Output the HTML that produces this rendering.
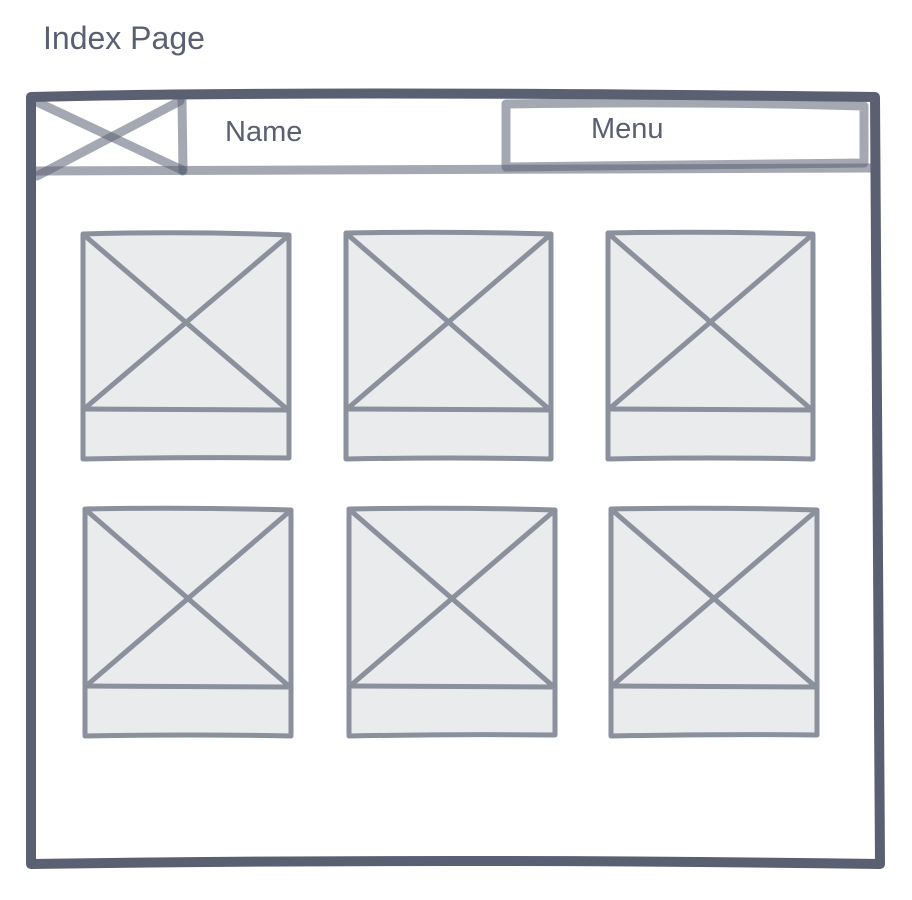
<!DOCTYPE html>
<html><head><meta charset="utf-8"><style>
html,body{margin:0;padding:0;background:#fff;width:912px;height:900px;overflow:hidden}
svg{display:block}
</style></head><body>
<svg width="912" height="900" viewBox="0 0 912 900" xmlns="http://www.w3.org/2000/svg">
<text x="43" y="49" font-family="Liberation Sans, sans-serif" font-size="32" fill="#5a6072">Index Page</text>
<path d="M31 97 Q300 90 875 97 L880 864 Q450 858 31 864 Z" fill="#fff" stroke="#5a6072" stroke-width="10" stroke-linejoin="round"/>
<g stroke="#5a6072" stroke-opacity="0.55" stroke-width="9" fill="none" stroke-linecap="round">
<line x1="35" y1="171" x2="872" y2="168"/>
<line x1="182" y1="100" x2="183" y2="171"/>
<line x1="37" y1="102" x2="182" y2="170"/>
<line x1="37" y1="176" x2="180" y2="101"/>
<path d="M506 104 Q700 101 864 106 L864 163 Q700 165 506 167 Z" stroke-linejoin="round"/>
</g>
<text x="225" y="141" font-family="Liberation Sans, sans-serif" font-size="29" fill="#5a6072">Name</text>
<text x="591" y="138" font-family="Liberation Sans, sans-serif" font-size="29" fill="#5a6072">Menu</text>
<g fill="#eaebed" stroke="#8a909c" stroke-width="5" stroke-linecap="round" stroke-linejoin="round">
<path d="M83 234 Q185 231 289 235 L289 458 Q185 457 83 459 Z"/>
<path d="M346 233 Q450 231 551 234 L551 459 Q450 457 346 459 Z"/>
<path d="M608 233 Q710 231 813 234 L813 459 Q710 457 608 459 Z"/>
<path d="M85 509 Q190 507 291 510 L291 736 Q190 734 85 736 Z"/>
<path d="M349 509 Q450 507 555 510 L555 735 Q450 734 349 736 Z"/>
<path d="M611 509 Q715 507 817 510 L817 735 Q715 734 611 736 Z"/>
</g>
<g stroke="#8a909c" stroke-width="5" stroke-linecap="round" fill="none">
<line x1="83" y1="409" x2="289" y2="410"/><line x1="84" y1="235" x2="288" y2="410"/><line x1="84" y1="409" x2="288" y2="236"/>
<line x1="346" y1="409" x2="551" y2="410"/><line x1="347" y1="234" x2="550" y2="410"/><line x1="347" y1="409" x2="550" y2="235"/>
<line x1="608" y1="409" x2="813" y2="410"/><line x1="609" y1="234" x2="812" y2="410"/><line x1="609" y1="409" x2="812" y2="235"/>
<line x1="85" y1="686" x2="291" y2="687"/><line x1="86" y1="510" x2="290" y2="687"/><line x1="86" y1="686" x2="290" y2="511"/>
<line x1="349" y1="686" x2="555" y2="687"/><line x1="350" y1="510" x2="554" y2="687"/><line x1="350" y1="686" x2="554" y2="511"/>
<line x1="611" y1="686" x2="817" y2="687"/><line x1="612" y1="510" x2="816" y2="687"/><line x1="612" y1="686" x2="816" y2="511"/>
</g>
</svg>
</body></html>
